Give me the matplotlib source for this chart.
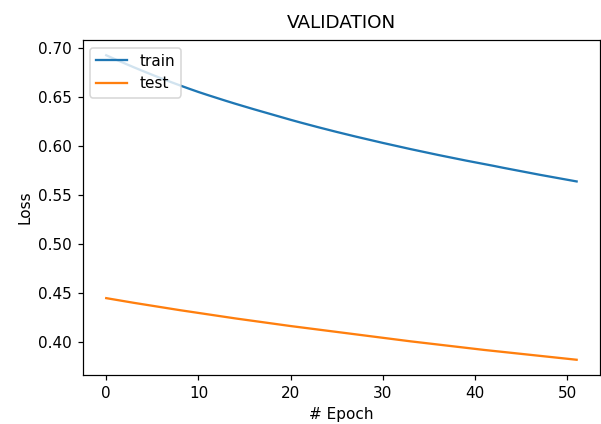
import matplotlib
matplotlib.use('Agg')
import matplotlib.pyplot as plt

# loss per epoch
epochs = list(range(52))
train_loss = [
    0.6926, 0.6884, 0.6843, 0.6803, 0.6764, 0.6726, 0.6689, 0.6653, 0.6618, 0.6584,
    0.6551, 0.6520, 0.6490, 0.6460, 0.6431, 0.6403, 0.6375, 0.6348, 0.6321, 0.6294,
    0.6267, 0.6241, 0.6216, 0.6191, 0.6167, 0.6143, 0.6120, 0.6097, 0.6075, 0.6053,
    0.6031, 0.6010, 0.5989, 0.5968, 0.5948, 0.5928, 0.5908, 0.5889, 0.5870, 0.5851,
    0.5833, 0.5815, 0.5797, 0.5778, 0.5760, 0.5742, 0.5724, 0.5706, 0.5689, 0.5672,
    0.5655, 0.5638,
]
test_loss = [
    0.4447, 0.4431, 0.4415, 0.4399, 0.4384, 0.4369, 0.4354, 0.4339, 0.4324, 0.4310,
    0.4296, 0.4282, 0.4268, 0.4254, 0.4240, 0.4227, 0.4214, 0.4201, 0.4188, 0.4175,
    0.4162, 0.4150, 0.4138, 0.4126, 0.4114, 0.4102, 0.4090, 0.4078, 0.4066, 0.4054,
    0.4042, 0.4030, 0.4018, 0.4006, 0.3995, 0.3984, 0.3973, 0.3962, 0.3951, 0.3940,
    0.3929, 0.3918, 0.3908, 0.3898, 0.3888, 0.3878, 0.3868, 0.3858, 0.3848, 0.3838,
    0.3828, 0.3818,
]
series_names = ['train', 'test']

# reference looks like a default matplotlib figure drawn at ~110 dpi
DPI = 110
fig = plt.figure(figsize=(601 / DPI, 424 / DPI), dpi=DPI)
ax = fig.add_axes([0.1376, 0.1156, 0.8610, 0.7900])

ax.plot(epochs, train_loss, label=series_names[0])
ax.plot(epochs, test_loss, label=series_names[1])

ax.set_title('VALIDATION', pad=8)
ax.set_xlabel('# Epoch')
ax.set_ylabel('Loss')
ax.legend(loc='upper left')

fig.savefig('out.png', dpi=DPI, facecolor='white')
